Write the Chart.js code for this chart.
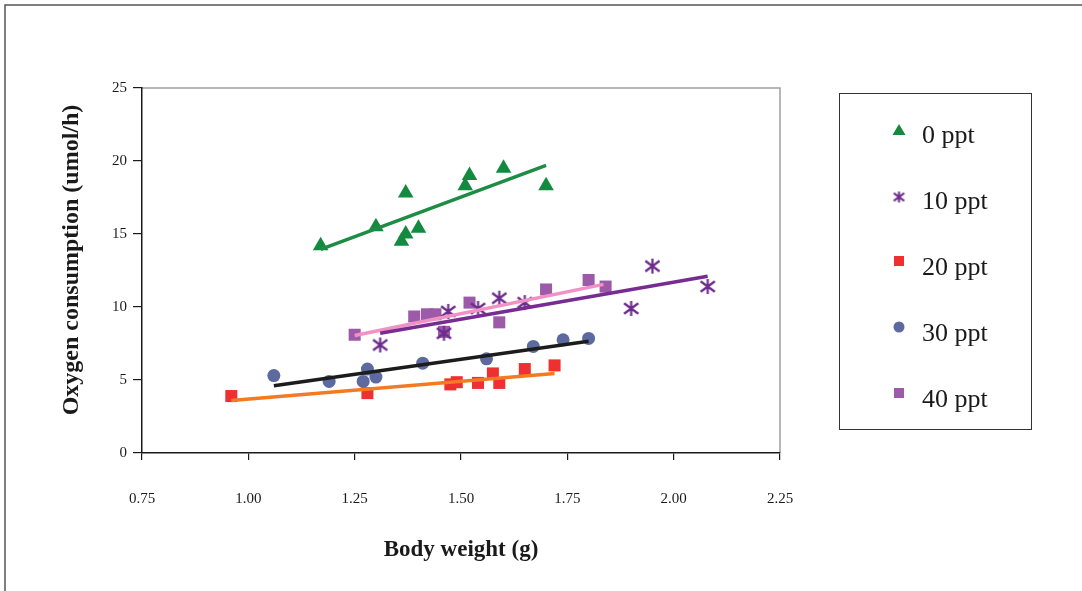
<!DOCTYPE html>
<html>
<head>
<meta charset="utf-8">
<script src="https://cdn.jsdelivr.net/npm/chart.js@4.4.0/dist/chart.umd.min.js"></script>
<style>
  html, body { margin: 0; padding: 0; background: #ffffff; }
  #wrap { position: relative; width: 1082px; height: 591px; }
</style>
</head>
<body>
<div id="wrap"><canvas id="grafico" width="1082" height="591"></canvas></div>
<script>
// series names
var seriesNames = ["0 ppt", "10 ppt", "20 ppt", "30 ppt", "40 ppt"];

// body weight (g) / oxygen consumption (umol/h)
var ppt0X = [1.17, 1.30, 1.37, 1.40, 1.37, 1.36, 1.52, 1.51, 1.60, 1.70];
var ppt0Y = [14.2, 15.5, 17.8, 15.4, 15.0, 14.5, 19.0, 18.3, 19.5, 18.3];

var ppt10X = [1.31, 1.46, 1.47, 1.54, 1.59, 1.65, 1.90, 1.95, 2.08];
var ppt10Y = [7.4, 8.2, 9.7, 9.9, 10.6, 10.3, 9.9, 12.8, 11.4];

var ppt20X = [0.96, 1.28, 1.475, 1.49, 1.54, 1.575, 1.59, 1.65, 1.72];
var ppt20Y = [3.9, 4.1, 4.7, 4.85, 4.8, 5.45, 4.8, 5.75, 6.0];

var ppt30X = [1.06, 1.19, 1.28, 1.27, 1.30, 1.41, 1.56, 1.67, 1.74, 1.80];
var ppt30Y = [5.3, 4.9, 5.75, 4.9, 5.2, 6.15, 6.45, 7.3, 7.75, 7.85];

var ppt40X = [1.25, 1.39, 1.42, 1.44, 1.46, 1.52, 1.59, 1.70, 1.80, 1.84];
var ppt40Y = [8.1, 9.35, 9.5, 9.5, 8.3, 10.3, 8.95, 11.2, 11.85, 11.4];

// trend line end points
var trend0X = [1.17, 1.70];
var trend0Y = [13.95, 19.7];
var trend10X = [1.31, 2.08];
var trend10Y = [8.2, 12.1];
var trend20X = [0.96, 1.72];
var trend20Y = [3.6, 5.45];
var trend30X = [1.06, 1.80];
var trend30Y = [4.6, 7.65];
var trend40X = [1.25, 1.835];
var trend40Y = [8.05, 11.55];

// tick labels
var xTickValues = [0.75, 1.00, 1.25, 1.50, 1.75, 2.00, 2.25];
var yTickValues = [0, 5, 10, 15, 20, 25];

function toPoints(xs, ys) {
    return xs.map(function (x, i) {
        return { x: x, y: ys[i] };
    });
}

// asterisk marker (vertical bar plus an X)
function makeAsterisk(size, color, lw) {
    var c = document.createElement("canvas");
    c.width = size;
    c.height = size;
    var g = c.getContext("2d");
    var m = size / 2, r = size / 2 - 1;
    g.strokeStyle = color;
    g.lineWidth = lw;
    g.beginPath();
    g.moveTo(m, m - r); g.lineTo(m, m + r);
    g.moveTo(m - r * 0.95, m - r * 0.7); g.lineTo(m + r * 0.95, m + r * 0.7);
    g.moveTo(m + r * 0.95, m - r * 0.7); g.lineTo(m - r * 0.95, m + r * 0.7);
    g.stroke();
    return c;
}

var colGreen = "#138a3f";
var colPurple = "#6d2b8d";
var colRed = "#ee3030";
var colBlue = "#5c6aa0";
var colViolet = "#9c5aa8";

var asteriskBig = makeAsterisk(17, colPurple, 2.2);
var asteriskSmall = makeAsterisk(13, colPurple, 2);

function trendLine(xs, ys, color) {
    return {
        data: toPoints(xs, ys),
        showLine: true,
        borderColor: color,
        borderWidth: 3.5,
        pointRadius: 0,
        fill: false
    };
}

function markers(xs, ys, style, color, radius) {
    return {
        data: toPoints(xs, ys),
        showLine: false,
        pointStyle: style,
        pointRadius: radius,
        pointBackgroundColor: color,
        pointBorderColor: color,
        pointBorderWidth: 0
    };
}

// frame, plot box, axis titles and legend
var decoPlugin = {
    id: "deco",
    beforeDraw: function (chart) {
        var ctx = chart.ctx;
        var a = chart.chartArea;
        ctx.save();
        ctx.fillStyle = "#ffffff";
        ctx.fillRect(0, 0, chart.width, chart.height);
        // outer frame
        ctx.strokeStyle = "#555555";
        ctx.lineWidth = 1.5;
        ctx.beginPath();
        ctx.moveTo(5, 591);
        ctx.lineTo(5, 5);
        ctx.lineTo(1082, 5);
        ctx.stroke();
        // plot box top / right
        ctx.strokeStyle = "#a0a0a0";
        ctx.lineWidth = 1.5;
        ctx.beginPath();
        ctx.moveTo(a.left, a.top);
        ctx.lineTo(a.right, a.top);
        ctx.lineTo(a.right, a.bottom);
        ctx.stroke();
        ctx.restore();
    },
    afterDraw: function (chart) {
        var ctx = chart.ctx;
        var a = chart.chartArea;
        ctx.save();
        ctx.fillStyle = "#1a1a1a";
        ctx.textAlign = "center";
        ctx.textBaseline = "middle";
        ctx.font = "bold 23px 'Liberation Serif', 'Times New Roman', serif";
        ctx.fillText("Body weight (g)", (a.left + a.right) / 2, 550);
        ctx.font = "bold 24px 'Liberation Serif', 'Times New Roman', serif";
        ctx.translate(72, 260);
        ctx.rotate(-Math.PI / 2);
        ctx.fillText("Oxygen consumption (umol/h)", 0, 0);
        ctx.restore();

        // legend box
        ctx.save();
        ctx.strokeStyle = "#333333";
        ctx.lineWidth = 1;
        ctx.strokeRect(839.5, 93.5, 192, 336);
        var mx = 899;
        var my = [130, 197, 261, 327, 393];
        var ty = [143, 209, 275, 341, 407];
        // 0 ppt triangle
        ctx.fillStyle = colGreen;
        ctx.beginPath();
        ctx.moveTo(mx, my[0] - 6);
        ctx.lineTo(mx + 6.5, my[0] + 5);
        ctx.lineTo(mx - 6.5, my[0] + 5);
        ctx.closePath();
        ctx.fill();
        // 10 ppt asterisk
        ctx.drawImage(asteriskSmall, mx - 6.5, my[1] - 6.5);
        // 20 ppt square
        ctx.fillStyle = colRed;
        ctx.fillRect(mx - 5, my[2] - 5, 10, 10);
        // 30 ppt circle
        ctx.fillStyle = colBlue;
        ctx.beginPath();
        ctx.arc(mx, my[3], 5.5, 0, Math.PI * 2);
        ctx.fill();
        // 40 ppt square
        ctx.fillStyle = colViolet;
        ctx.fillRect(mx - 5, my[4] - 5, 10, 10);

        ctx.fillStyle = "#1a1a1a";
        ctx.font = "26px 'Liberation Serif', 'Times New Roman', serif";
        ctx.textAlign = "left";
        ctx.textBaseline = "alphabetic";
        seriesNames.forEach(function (n, i) {
            ctx.fillText(n, 922, ty[i]);
        });
        ctx.restore();
    }
};

var ctx = document.getElementById("grafico").getContext("2d");

new Chart(ctx, {
    type: "scatter",
    data: {
        datasets: [
            trendLine(trend0X, trend0Y, "#1e8c44"),
            trendLine(trend10X, trend10Y, "#772c92"),
            trendLine(trend20X, trend20Y, "#f47a22"),
            trendLine(trend30X, trend30Y, "#1c1c1c"),
            trendLine(trend40X, trend40Y, "#f291c4"),
            markers(ppt0X, ppt0Y, "triangle", colGreen, 9),
            markers(ppt10X, ppt10Y, asteriskBig, colPurple, 8),
            markers(ppt20X, ppt20Y, "rect", colRed, 8.5),
            markers(ppt30X, ppt30Y, "circle", colBlue, 6.5),
            markers(ppt40X, ppt40Y, "rect", colViolet, 8.5)
        ]
    },
    options: {
        responsive: false,
        animation: false,
        layout: {
            padding: { left: 0, top: 88, right: 302, bottom: 78 }
        },
        plugins: {
            legend: { display: false },
            tooltip: { enabled: false }
        },
        scales: {
            x: {
                type: "linear",
                min: 0.75,
                max: 2.25,
                afterBuildTicks: function (scale) {
                    scale.ticks = xTickValues.map(function (v) { return { value: v }; });
                },
                afterFit: function (scale) { scale.height = 60; },
                ticks: {
                    callback: function (v) { return Number(v).toFixed(2); },
                    color: "#1a1a1a",
                    padding: 30,
                    maxRotation: 0,
                    font: { family: "'Liberation Serif', 'Times New Roman', serif", size: 15 }
                },
                grid: {
                    drawOnChartArea: false,
                    drawTicks: true,
                    tickLength: 7,
                    color: "#1a1a1a",
                    lineWidth: 1.2
                },
                border: { display: true, color: "#1a1a1a", width: 1.5 }
            },
            y: {
                type: "linear",
                min: 0,
                max: 25,
                afterBuildTicks: function (scale) {
                    scale.ticks = yTickValues.map(function (v) { return { value: v }; });
                },
                afterFit: function (scale) { scale.width = 142; },
                ticks: {
                    color: "#1a1a1a",
                    padding: 6,
                    font: { family: "'Liberation Serif', 'Times New Roman', serif", size: 15 }
                },
                grid: {
                    drawOnChartArea: false,
                    drawTicks: true,
                    tickLength: 9,
                    color: "#1a1a1a",
                    lineWidth: 1.2
                },
                border: { display: true, color: "#1a1a1a", width: 1.5 }
            }
        }
    },
    plugins: [decoPlugin]
});
</script>
</body>
</html>
